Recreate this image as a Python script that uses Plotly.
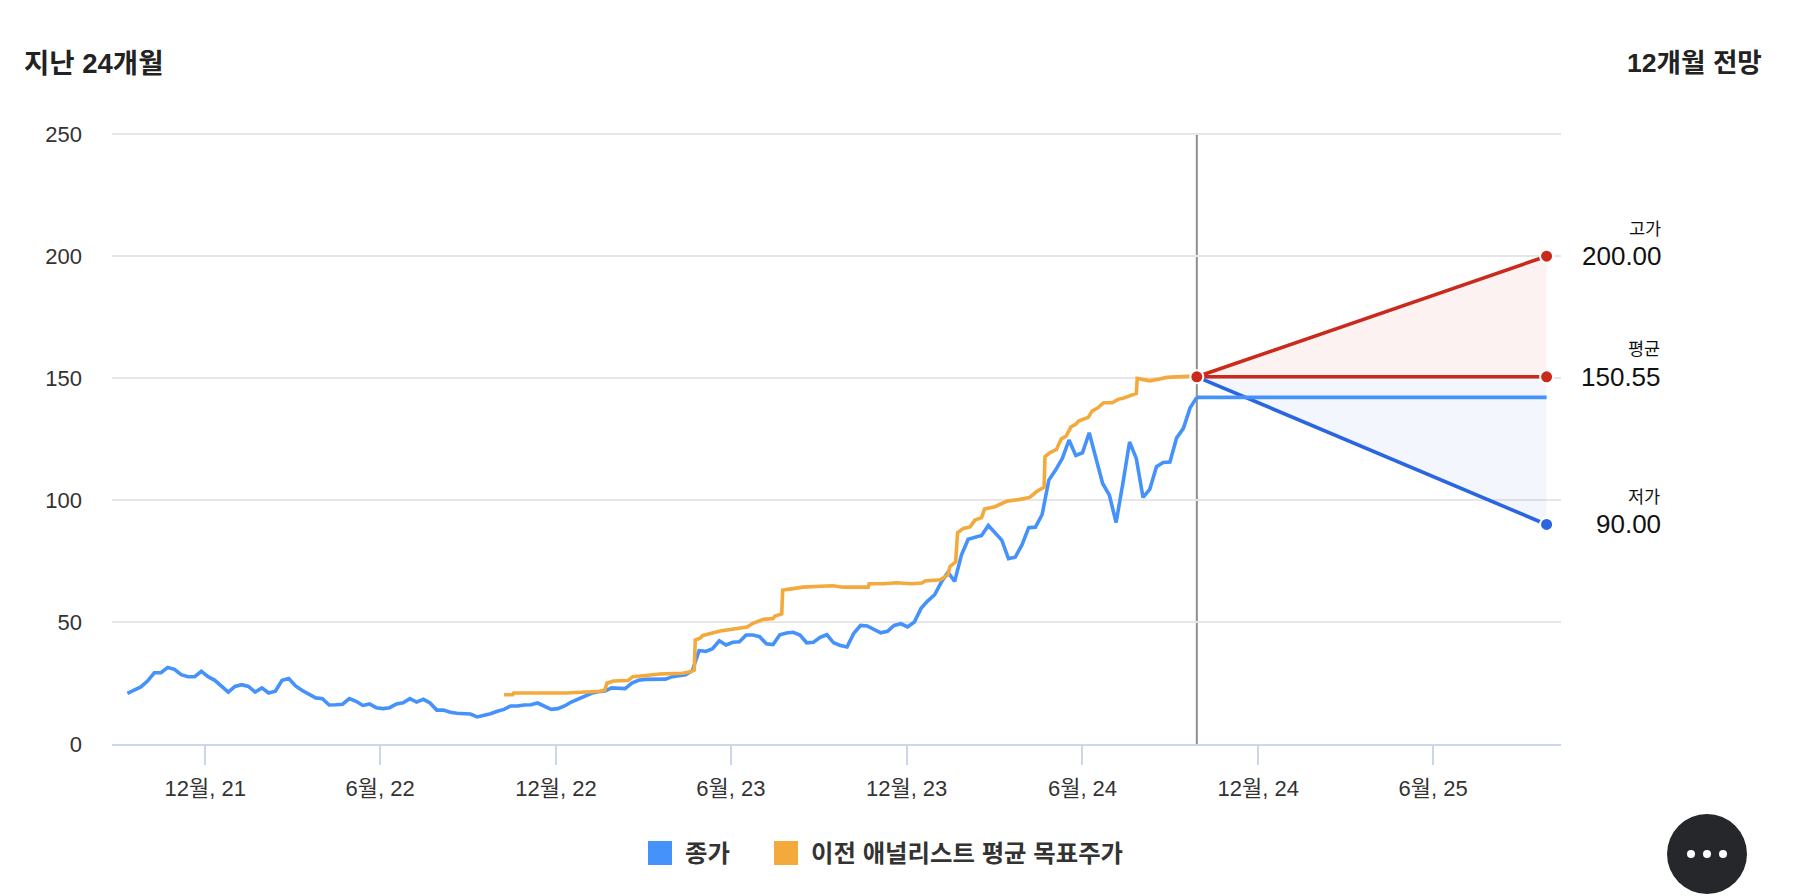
import pandas as pd
import plotly.graph_objects as go

# weekly closing price, last point is the day the forecast starts
close_values = [
    20.8, 22.1, 23.4, 25.8, 29.2, 29.2, 31.4, 30.6, 28.4, 27.6, 27.6, 29.8, 27.6, 26.1, 23.8, 21.3,
    23.6, 24.3, 23.6, 21.3, 23.0, 20.9, 21.6, 26.1, 26.8, 23.8, 21.9, 20.2, 18.9, 18.6, 16.0, 16.1,
    16.3, 18.6, 17.5, 15.8, 16.4, 14.9, 14.5, 14.9, 16.4, 16.9, 18.6, 17.2, 18.3, 16.8, 13.9, 13.9,
    13.0, 12.6, 12.3, 12.3, 11.1, 11.7, 12.4, 13.4, 14.2, 15.6, 15.6, 16.0, 16.1, 16.8, 15.3, 14.2,
    14.5, 15.6, 17.2, 18.3, 19.4, 20.8, 21.4,
    21.7, 23.0, 23.0, 22.7, 25.0, 26.1, 26.5, 26.6, 26.6, 26.6, 27.6, 28.1, 28.4, 30.1, 38.3, 38.0,
    39.1, 42.3, 40.6, 41.7, 41.9, 44.7, 44.7, 44.0, 41.1, 40.8, 44.8, 45.5, 45.8, 44.7, 41.5, 41.7,
    43.7, 44.8, 41.5, 40.4, 39.8, 45.4, 48.6, 48.4, 47.0, 45.6, 46.2, 48.6, 49.3, 48.0, 50.0, 55.6,
    58.7, 61.1, 66.3, 70.4, 66.7, 77.5, 83.9, 84.6, 85.5, 89.6, 86.8, 83.6, 76.0, 76.6, 81.6, 88.7,
    88.9, 94.1,
    108.2, 112.3, 117.1, 124.6, 118.3, 119.4, 127.6, 117.1, 106.8, 102.0, 90.8, 106.8, 123.8, 117.1,
    101.1, 104.4, 113.7, 115.4, 115.6, 125.5, 129.4, 137.8, 142.1,
]

# analyst target: days counted from the first tick, with the value at that day
target_days = [
    311, 320, 321, 341, 376, 411, 416, 418, 425, 440, 445, 456, 473, 497, 505, 509, 510, 515, 518, 536,
    549, 564, 570, 581, 591, 593, 600, 601, 612, 622, 647, 653, 664, 690, 691, 706, 720, 734, 746, 749,
    765, 773, 775, 781, 783, 789, 796, 801, 808, 811, 822, 834, 848, 858, 865, 873, 874, 879, 886, 891,
    896, 901, 906, 909, 919, 923, 929, 935, 944, 950, 955, 969, 970, 983, 992, 1001, 1011, 1025,
]
target_values = [
    20.2, 20.2, 20.9, 20.8, 20.9, 21.6, 22.1, 24.9, 25.8, 26.0, 27.6, 28.0, 28.7, 29.0, 29.6, 30.3, 42.6, 43.4, 44.5, 46.3,
    47.0, 48.0, 49.5, 51.1, 51.4, 52.5, 53.3, 63.1, 63.7, 64.3, 64.8, 64.9, 64.3, 64.3, 65.7, 65.7, 66.1, 65.7, 66.0, 66.8,
    67.3, 69.3, 72.7, 74.7, 86.6, 88.4, 89.0, 91.8, 92.8, 96.3, 97.3, 99.5, 100.3, 101.1, 103.4, 105.3, 117.8, 119.4, 120.8, 125.1,
    126.2, 130.0, 131.1, 132.4, 133.9, 136.5, 137.8, 139.9, 139.9, 141.3, 141.7, 143.7, 149.9, 148.9, 149.5, 150.3, 150.5, 150.7,
]

forecast_dates = ["2024-09-28", "2025-09-27"]
forecast_high = [150.55, 200.00]
forecast_mean = [150.55, 150.55]
forecast_low = [150.55, 90.00]
last_close = [142.1, 142.1]

tick_dates = ["2021-12-01", "2022-06-01", "2022-12-01", "2023-06-01", "2023-12-01", "2024-06-01", "2024-12-01", "2025-06-01"]
tick_labels = ["12월, 21", "6월, 22", "12월, 22", "6월, 23", "12월, 23", "6월, 24", "12월, 24", "6월, 25"]

BLUE = "#4592fb"
ORANGE = "#f4a93c"
RED = "#c92a1b"
DARK_BLUE = "#2b65e0"
FONT = "Liberation Sans, Noto Sans CJK KR"

# plot area in page pixels (top edge sits a little above the 250 grid line)
LEFT, RIGHT, TOP, BOTTOM = 112, 1561, 133, 744


def px_x(x):
    return (x - LEFT) / (RIGHT - LEFT)


def px_y(y):
    return (BOTTOM - y) / (BOTTOM - TOP)


close_dates = pd.date_range(end=forecast_dates[0], periods=len(close_values), freq="7D")
target_dates = [pd.Timestamp(tick_dates[0]) + pd.Timedelta(days=d) for d in target_days]

fig = go.Figure()

fig.add_trace(go.Scatter(x=forecast_dates, y=forecast_high, name="고가", mode="lines",
                         line=dict(color=RED, width=3.6)))
fig.add_trace(go.Scatter(x=forecast_dates, y=forecast_mean, name="평균", mode="lines",
                         line=dict(color=RED, width=3.6), fill="tonexty", fillcolor="rgba(201,42,27,0.06)"))
fig.add_trace(go.Scatter(x=forecast_dates, y=forecast_low, name="저가", mode="lines",
                         line=dict(color=DARK_BLUE, width=3.6), fill="tonexty", fillcolor="rgba(43,101,224,0.06)"))
fig.add_trace(go.Scatter(x=forecast_dates, y=last_close, name="종가", mode="lines",
                         line=dict(color=BLUE, width=3.6)))
fig.add_trace(go.Scatter(x=close_dates, y=close_values, name="종가", mode="lines",
                         line=dict(color=BLUE, width=3.6)))
fig.add_trace(go.Scatter(x=target_dates, y=target_values, name="이전 애널리스트 평균 목표주가", mode="lines",
                         line=dict(color=ORANGE, width=3.6)))
fig.add_trace(go.Scatter(x=[forecast_dates[0], forecast_dates[1], forecast_dates[1], forecast_dates[1]],
                         y=[forecast_mean[0], forecast_high[1], forecast_mean[1], forecast_low[1]],
                         mode="markers",
                         marker=dict(size=13, color=[RED, RED, RED, DARK_BLUE], line=dict(color="white", width=2))))

fig.add_shape(type="line", x0=forecast_dates[0], x1=forecast_dates[0], y0=0, y1=250,
              line=dict(color="#8e8e8e", width=2), layer="below")

# legend squares and the round menu button
fig.add_shape(type="rect", xref="paper", yref="paper", x0=px_x(648), x1=px_x(672), y0=px_y(865), y1=px_y(841),
              fillcolor=BLUE, line_width=0)
fig.add_shape(type="rect", xref="paper", yref="paper", x0=px_x(774), x1=px_x(798), y0=px_y(865), y1=px_y(841),
              fillcolor=ORANGE, line_width=0)
fig.add_shape(type="circle", xref="paper", yref="paper", x0=px_x(1667), x1=px_x(1747), y0=px_y(894), y1=px_y(814),
              fillcolor="#26272a", line_width=0)
for dot_x in [1691, 1707, 1723]:
    fig.add_shape(type="circle", xref="paper", yref="paper", x0=px_x(dot_x - 4), x1=px_x(dot_x + 4),
                  y0=px_y(858), y1=px_y(850), fillcolor="white", line_width=0)


def add_text(x, y, text, anchor, size, color="#222222", weight=None):
    fig.add_annotation(xref="paper", yref="paper", x=px_x(x), y=px_y(y), text=text, showarrow=False,
                       xanchor=anchor, yanchor="middle", xshift=0,
                       font=dict(family=FONT, size=size, color=color, weight=weight))


add_text(22, 63, "지난 24개월", "left", 27.5, weight=700)
add_text(1764, 63, "12개월 전망", "right", 26.6, weight=700)
add_text(683, 853, "종가", "left", 24.4, color="#333333", weight=700)
add_text(809, 853, "이전 애널리스트 평균 목표주가", "left", 24.4, color="#333333", weight=700)

add_text(1663, 229, "고가", "right", 17.5, color="#111111")
add_text(1664, 256, f"{forecast_high[1]:.2f}", "right", 26, color="#111111")
add_text(1662, 349, "평균", "right", 17.5, color="#111111")
add_text(1663, 377, f"{forecast_mean[1]:.2f}", "right", 26, color="#111111")
add_text(1662, 497, "저가", "right", 17.5, color="#111111")
add_text(1663, 524, f"{forecast_low[1]:.2f}", "right", 26, color="#111111")

fig.update_layout(
    width=1796,
    height=896,
    autosize=False,
    margin=dict(l=LEFT, r=1796 - RIGHT, t=TOP, b=896 - BOTTOM),
    paper_bgcolor="white",
    plot_bgcolor="white",
    showlegend=False,
    font=dict(family=FONT, color="#333333"),
)
fig.update_xaxes(
    type="date",
    range=["2021-08-26", "2025-10-12"],
    tickvals=tick_dates,
    ticktext=tick_labels,
    tickangle=0,
    ticks="outside",
    ticklen=19,
    tickwidth=2,
    tickcolor="#ccd6eb",
    showline=True,
    linecolor="#ccd6eb",
    linewidth=2,
    showgrid=False,
    ticklabelstandoff=5,
    tickfont=dict(family=FONT, size=22, color="#333333"),
)
fig.update_yaxes(
    range=[0, 250.5],
    tickvals=[0, 50, 100, 150, 200, 250],
    gridcolor="#e6e6e6",
    gridwidth=2,
    zeroline=False,
    ticks="",
    ticklabelstandoff=29,
    tickfont=dict(family=FONT, size=22, color="#333333"),
)

fig.write_html("out.html", config=dict(displayModeBar=False), post_script="document.body.style.margin='0';")
